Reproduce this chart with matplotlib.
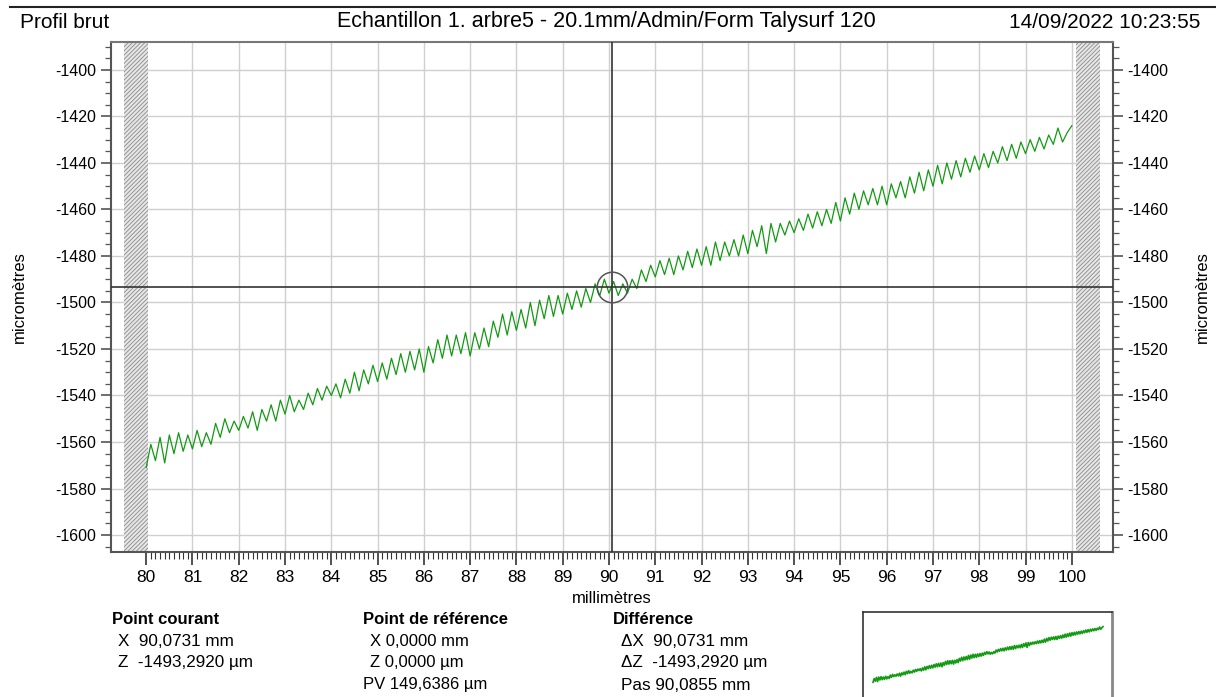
import numpy as np
import matplotlib
matplotlib.use('Agg')
import matplotlib.pyplot as plt
import matplotlib.ticker as ticker
from matplotlib.lines import Line2D

plt.rcParams['font.family'] = ['Liberation Sans', 'DejaVu Sans']
plt.rcParams['axes.unicode_minus'] = False
plt.rcParams['hatch.color'] = '#8a8a8a'
plt.rcParams['hatch.linewidth'] = 0.6

# Profile, one value every 0.1 mm from 80 to 100 mm (micrometres)
x_start, x_end = 80.0, 100.0
z_80 = [-1571, -1561, -1568, -1558, -1569, -1557, -1565, -1556, -1564, -1557]
z_81 = [-1563, -1555, -1562, -1556, -1561, -1552, -1558, -1550, -1556, -1551]
z_82 = [-1555, -1549, -1554, -1547, -1555, -1546, -1551, -1544, -1551, -1542]
z_83 = [-1548, -1540, -1547, -1542, -1546, -1539, -1544, -1537, -1542, -1536]
z_84 = [-1540, -1535, -1541, -1533, -1539, -1530, -1538, -1529, -1535, -1527]
z_85 = [-1534, -1526, -1533, -1524, -1531, -1522, -1530, -1521, -1529, -1520]
z_86 = [-1530, -1519, -1526, -1516, -1524, -1514, -1523, -1514, -1522, -1513]
z_87 = [-1523, -1513, -1520, -1511, -1519, -1508, -1515, -1505, -1514, -1504]
z_88 = [-1512, -1503, -1511, -1500, -1510, -1499, -1507, -1497, -1506, -1497]
z_89 = [-1505, -1496, -1503, -1495, -1502, -1494, -1500, -1492, -1497, -1490]
z_90 = [-1496, -1491, -1497, -1492, -1496, -1490, -1494, -1486, -1491, -1484]
z_91 = [-1489, -1482, -1488, -1481, -1488, -1480, -1486, -1478, -1485, -1477]
z_92 = [-1484, -1476, -1484, -1474, -1482, -1474, -1480, -1473, -1480, -1471]
z_93 = [-1479, -1469, -1476, -1467, -1479, -1466, -1474, -1466, -1471, -1465]
z_94 = [-1470, -1464, -1469, -1462, -1468, -1461, -1467, -1460, -1466, -1457]
z_95 = [-1465, -1455, -1462, -1453, -1460, -1452, -1458, -1451, -1458, -1450]
z_96 = [-1458, -1449, -1455, -1448, -1455, -1446, -1453, -1444, -1452, -1443]
z_97 = [-1450, -1441, -1449, -1440, -1447, -1439, -1446, -1438, -1444, -1437]
z_98 = [-1443, -1436, -1442, -1435, -1440, -1433, -1439, -1432, -1438, -1431]
z_99 = [-1436, -1430, -1435, -1429, -1434, -1428, -1432, -1425, -1431, -1427]
z_100 = [-1424]

z = np.array(z_80 + z_81 + z_82 + z_83 + z_84 + z_85 + z_86 + z_87 + z_88 + z_89
             + z_90 + z_91 + z_92 + z_93 + z_94 + z_95 + z_96 + z_97 + z_98 + z_99 + z_100)
x = np.linspace(x_start, x_end, len(z))

# cursor
cur_x, cur_z = 90.0731, -1493.2920

W, H = 1216, 697
fig = plt.figure(figsize=(W / 100, H / 100), dpi=100)

def fx(px):
    return px / W

def fy(py):
    return 1 - py / H

ax = fig.add_axes([fx(111), fy(552), fx(1113) - fx(111), fy(42) - fy(552)])
ax.set_xlim(79.24, 100.89)
ax.set_ylim(-1607.3, -1388)

ax.plot(x, z, color='#139a13', lw=0.9, zorder=3)

# hatched end zones
for a, b in [(79.52, 79.78), (79.78, 80.04), (100.09, 100.35), (100.35, 100.61)]:
    ax.axvspan(a, b, facecolor='#e6e6e6', edgecolor='#8a8a8a', hatch='////////', lw=0, zorder=2)

ax.axvline(cur_x, color='#333333', lw=1.2, zorder=4)
ax.axhline(cur_z, color='#333333', lw=1.2, zorder=4)
ax.plot([cur_x], [cur_z], marker='o', ms=22, mfc='none', mec='#555555', mew=1.1, zorder=5)

ax.set_xticks(np.arange(80, 101, 1))
ax.xaxis.set_minor_locator(ticker.FixedLocator(np.arange(80, 100.01, 0.1)))
ax.set_yticks(np.arange(-1600, -1399, 20))
ax.yaxis.set_minor_locator(ticker.MultipleLocator(5))
ax.grid(True, which='major', color='#cfcfcf', lw=1.0, zorder=0)
ax.set_axisbelow(True)

ax.tick_params(axis='x', which='major', length=9, width=1.2, color='#333333', labelsize=12.5, pad=4)
ax.tick_params(axis='x', which='minor', length=5, width=0.8, color='#333333')
ax.tick_params(axis='y', which='major', length=7, width=1.2, color='#555555', labelsize=11.5,
               left=True, right=True, labelleft=True, labelright=True)
ax.tick_params(axis='y', which='minor', length=4, width=0.9, color='#555555', left=True, right=True)
for s in ax.spines.values():
    s.set_color('#555555')
    s.set_linewidth(1.5)
ax.spines['top'].set_color('#777777')

ax.set_xlabel('millimètres', fontsize=12)
fig.text(fx(19), fy(297), 'micromètres', rotation=90, fontsize=12, ha='center', va='center')
fig.text(fx(1202), fy(297), 'micromètres', rotation=90, fontsize=12, ha='center', va='center')

# header
fig.add_artist(Line2D([fx(10), 1.0], [fy(7), fy(7)], color='#222222', lw=1.5))
fig.text(fx(20), fy(22), 'Profil brut', fontsize=15, ha='left', va='center')
fig.text(fx(606), fy(22), 'Echantillon 1. arbre5 - 20.1mm/Admin/Form Talysurf 120', fontsize=15.5, ha='center', va='center')
fig.text(fx(1200), fy(22), '14/09/2022 10:23:55', fontsize=15, ha='right', va='center')

# cursor readout
fig.text(fx(112), fy(620), 'Point courant', fontsize=12, fontweight='bold', ha='left', va='center')
fig.text(fx(118), fy(642), 'X  90,0731 mm', fontsize=12.3, ha='left', va='center')
fig.text(fx(118), fy(663), 'Z  -1493,2920 µm', fontsize=12.3, ha='left', va='center')

fig.text(fx(363), fy(620), 'Point de référence', fontsize=12, fontweight='bold', ha='left', va='center')
fig.text(fx(370), fy(642), 'X 0,0000 mm', fontsize=12, ha='left', va='center')
fig.text(fx(370), fy(663), 'Z 0,0000 µm', fontsize=12, ha='left', va='center')
fig.text(fx(363), fy(685), 'PV 149,6386 µm', fontsize=12, ha='left', va='center')

fig.text(fx(613), fy(620), 'Différence', fontsize=12, fontweight='bold', ha='left', va='center')
fig.text(fx(621), fy(642), 'ΔX  90,0731 mm', fontsize=12.3, ha='left', va='center')
fig.text(fx(621), fy(663), 'ΔZ  -1493,2920 µm', fontsize=12.3, ha='left', va='center')
fig.text(fx(621), fy(685), 'Pas 90,0855 mm', fontsize=12.3, ha='left', va='center')

# overview inset
ax2 = fig.add_axes([fx(863), fy(732), fx(1112) - fx(863), fy(612) - fy(732)])
ax2.plot(x, z, color='#139a13', lw=1.2)
ax2.set_xlim(79.13, 100.78)
ax2.set_ylim(-1702, -1385.5)
ax2.set_xticks([])
ax2.set_yticks([])
for s in ax2.spines.values():
    s.set_color('#333333')
    s.set_linewidth(1.2)
ax2.spines['right'].set_color('#888888')
ax2.spines['right'].set_linewidth(2)

fig.savefig('out.png', dpi=100)
